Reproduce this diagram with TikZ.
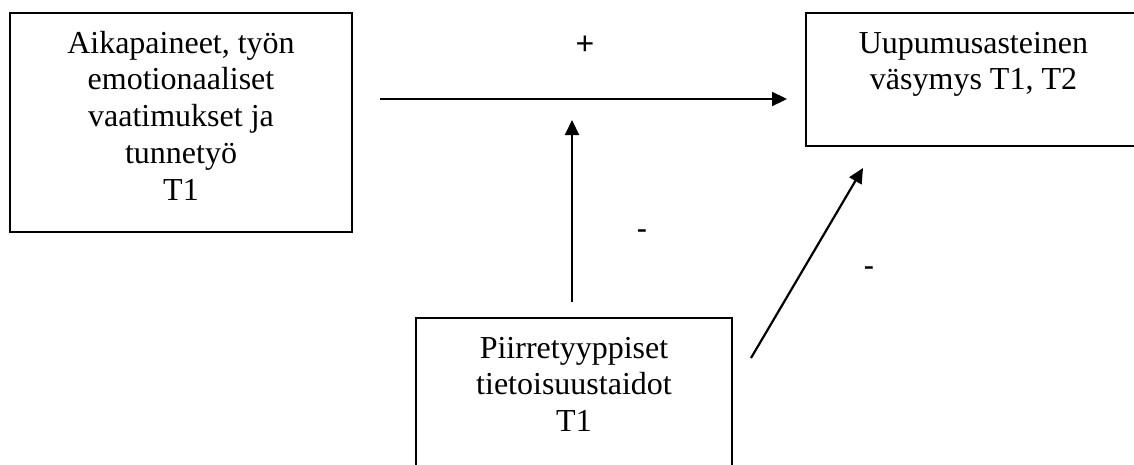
\documentclass[tikz,border=0pt]{standalone}
\usepackage{fontspec}
\setmainfont{Liberation Serif}
\newfontfamily\labelfont{Liberation Sans}
\usetikzlibrary{arrows.meta}

% text set from the top of a fixed-size box
\newcommand\topboxtext[3]{%
  \parbox[c][#2][t]{#1}{\centering\fontsize{32pt}{36.8pt}\selectfont
    \rule{0pt}{40pt}#3}}

\tikzset{
  varbox/.style={draw, line width=2.4pt, inner sep=0pt, outer sep=0pt},
  arr/.style={line width=2.2pt, -{Triangle[length=15pt,width=14pt]}},
  lbl/.style={font=\labelfont\fontsize{32pt}{36pt}\selectfont, inner sep=0pt}
}

\begin{document}
\begin{tikzpicture}[x=1pt, y=-1pt]
  \useasboundingbox (0,0) rectangle (1134,464);
  \clip (0,0) rectangle (1134,464);

  % variables
  \node[varbox, minimum width=342pt, minimum height=219pt] (lbox) at (181,122.5)
    {\topboxtext{342pt}{219pt}{Aikapaineet, työn\\emotionaaliset\\vaatimukset ja\\tunnetyö\\T1}};
  \node[varbox, minimum width=335pt, minimum height=133pt] (rbox) at (973.5,79.5)
    {\topboxtext{335pt}{133pt}{Uupumusasteinen\\väsymys T1, T2}};
  \node[varbox, minimum width=316pt, minimum height=152pt] (bbox) at (574,394)
    {\topboxtext{316pt}{152pt}{Piirretyyppiset\\tietoisuustaidot\\T1}};

  % connector end points
  \coordinate (hs) at (380,99);
  \coordinate (he) at (787,99);
  \coordinate (vs) at (572,302);
  \coordinate (ve) at (572,120);
  \coordinate (ds) at (751,358);
  \coordinate (de) at (863,168);

  \draw[arr] (hs) -- (he);
  \draw[arr] (vs) -- (ve);
  \draw[arr] (ds) -- (de);

  % effect signs
  \node[lbl, anchor=base] (plus) at (585,54) {+};
  \node[lbl, anchor=base] (minusa) at (642,239) {-};
  \node[lbl, anchor=base] (minusb) at (869,276) {-};
\end{tikzpicture}
\end{document}
